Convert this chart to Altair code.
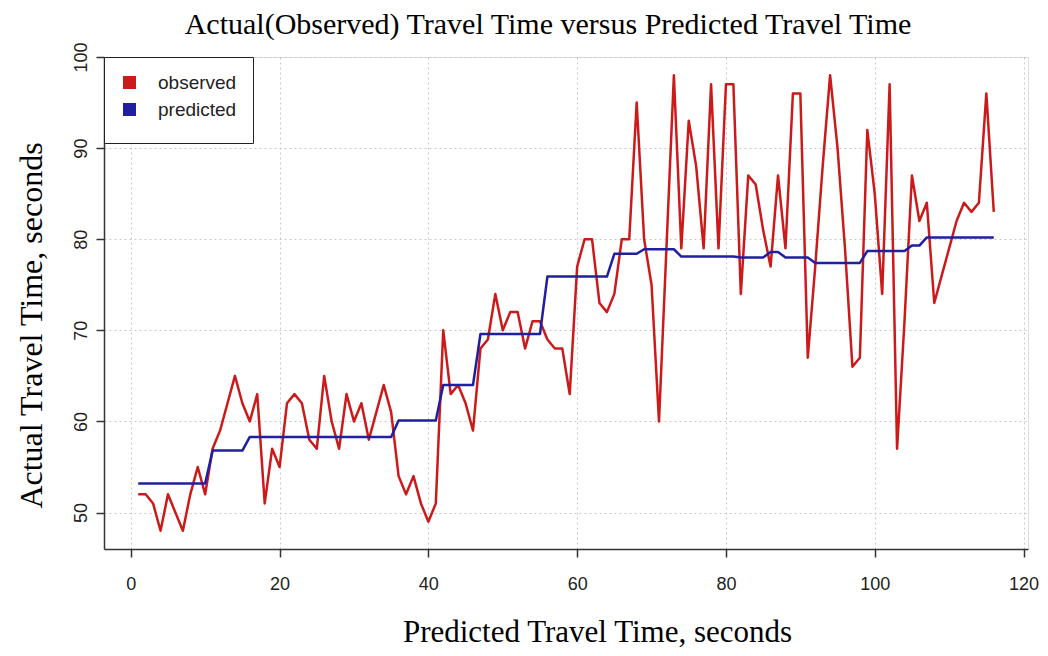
import altair as alt
import pandas as pd

# ---- data ----
x_index = list(range(1, 117))

observed = [
    52, 52, 51, 48, 52, 50, 48, 52, 55, 52,
    57, 59, 62, 65, 62, 60, 63, 51, 57, 55,
    62, 63, 62, 58, 57, 65, 60, 57, 63, 60,
    62, 58, 61, 64, 61, 54, 52, 54, 51, 49,
    51, 70, 63, 64, 62, 59, 68, 69, 74, 70,
    72, 72, 68, 71, 71, 69, 68, 68, 63, 77,
    80, 80, 73, 72, 74, 80, 80, 95, 80, 75,
    60, 79, 98, 79, 93, 88, 79, 97, 79, 97,
    97, 74, 87, 86, 81, 77, 87, 79, 96, 96,
    67, 77, 88, 98, 90, 79, 66, 67, 92, 85,
    74, 97, 57, 71, 87, 82, 84, 73, 76, 79,
    82, 84, 83, 84, 96, 83,
]

predicted = [
    53.2, 53.2, 53.2, 53.2, 53.2, 53.2, 53.2, 53.2, 53.2, 53.2,
    56.8, 56.8, 56.8, 56.8, 56.8, 58.3, 58.3, 58.3, 58.3, 58.3,
    58.3, 58.3, 58.3, 58.3, 58.3, 58.3, 58.3, 58.3, 58.3, 58.3,
    58.3, 58.3, 58.3, 58.3, 58.3, 60.1, 60.1, 60.1, 60.1, 60.1,
    60.1, 64.0, 64.0, 64.0, 64.0, 64.0, 69.6, 69.6, 69.6, 69.6,
    69.6, 69.6, 69.6, 69.6, 69.6, 75.9, 75.9, 75.9, 75.9, 75.9,
    75.9, 75.9, 75.9, 75.9, 78.4, 78.4, 78.4, 78.4, 78.9, 78.9,
    78.9, 78.9, 78.9, 78.1, 78.1, 78.1, 78.1, 78.1, 78.1, 78.1,
    78.1, 78.0, 78.0, 78.0, 78.0, 78.6, 78.6, 78.0, 78.0, 78.0,
    78.0, 77.4, 77.4, 77.4, 77.4, 77.4, 77.4, 77.4, 78.7, 78.7,
    78.7, 78.7, 78.7, 78.7, 79.3, 79.3, 80.2, 80.2, 80.2, 80.2,
    80.2, 80.2, 80.2, 80.2, 80.2, 80.2,
]

series_names = ["observed", "predicted"]
series_colors = ["#cc1a1a", "#1f1fa0"]
x_ticks = [0, 20, 40, 60, 80, 100, 120]
y_ticks = [50, 60, 70, 80, 90, 100]

df = pd.DataFrame({
    "idx": x_index + x_index,
    "value": observed + predicted,
    "series": [series_names[0]] * len(observed) + [series_names[1]] * len(predicted),
})

serif = "Liberation Serif"
sans = "Liberation Sans"

chart = alt.Chart(df).mark_line(strokeWidth=2.5, strokeJoin="round").encode(
    x=alt.X(
        "idx:Q",
        scale=alt.Scale(domain=[-3.6, 120.6], nice=False, zero=False),
        axis=alt.Axis(
            values=x_ticks,
            title="Predicted Travel Time, seconds",
            titleFont=serif, titleFontSize=31, titleFontWeight="normal",
            titleColor="black", titleX=493, titleY=92,
            titleAlign="center", titleBaseline="alphabetic",
            labelFont=sans, labelFontSize=18, labelColor="#222",
            labelPadding=18, labelFlush=False,
            tickSize=8, tickWidth=1.5, tickColor="#333",
            domainColor="#333", domainWidth=1.5,
            grid=True, gridColor="#c8c8c8", gridDash=[2, 3], gridWidth=1,
        ),
    ),
    y=alt.Y(
        "value:Q",
        scale=alt.Scale(domain=[46, 100], nice=False, zero=False),
        axis=alt.Axis(
            values=y_ticks,
            title="Actual Travel Time, seconds",
            titleFont=serif, titleFontSize=32, titleFontWeight="normal",
            titleColor="black", titleAngle=270, titleX=-63, titleY=268,
            titleAlign="center", titleBaseline="alphabetic",
            labelFont=sans, labelFontSize=18, labelColor="#222",
            labelAngle=270, labelAlign="center", labelBaseline="bottom",
            labelPadding=6, labelFlush=False,
            tickSize=8, tickWidth=1.5, tickColor="#333",
            domainColor="#333", domainWidth=1.5,
            grid=True, gridColor="#c8c8c8", gridDash=[2, 3], gridWidth=1,
        ),
    ),
    color=alt.Color(
        "series:N",
        scale=alt.Scale(domain=series_names, range=series_colors),
        legend=alt.Legend(
            title=None, orient="none", legendX=0, legendY=0,
            symbolType="square", symbolSize=36, symbolStrokeWidth=7,
            symbolOpacity=1,
            fillColor="white", strokeColor="#222", padding=16,
            labelFont=sans, labelFontSize=19, labelColor="#222",
            labelOffset=19, rowPadding=-8,
        ),
    ),
).properties(
    width=924,
    height=492,
    title=alt.TitleParams(
        "Actual(Observed) Travel Time versus Predicted Travel Time",
        font=serif, fontSize=30, fontWeight="normal", color="black",
        anchor="middle", dx=-18, offset=2,
    ),
    padding={"left": 96, "top": 49, "right": 12, "bottom": 99},
    autosize=alt.AutoSizeParams(type="none"),
).configure_view(
    stroke="#444", strokeDash=[2, 2], strokeWidth=1,
).configure(background="white")

chart.save("out.html", embed_options={"renderer": "svg", "actions": False})
